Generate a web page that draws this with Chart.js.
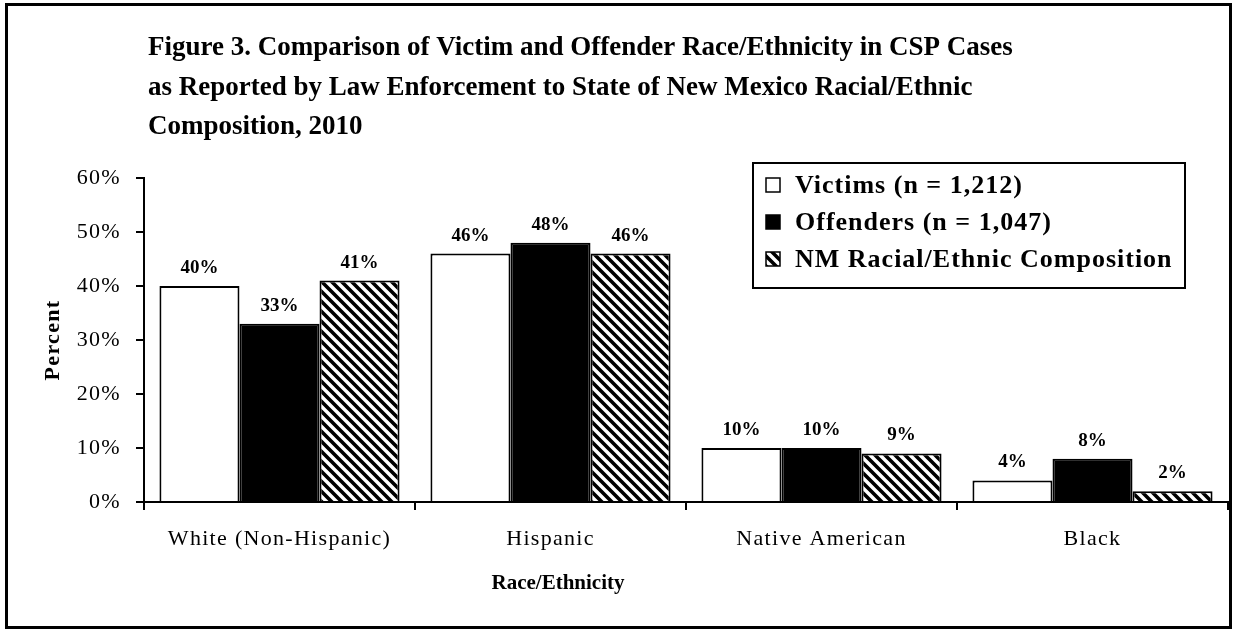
<!DOCTYPE html>
<html>
<head>
<meta charset="utf-8">
<script src="https://cdn.jsdelivr.net/npm/chart.js@4.4.0/dist/chart.umd.min.js"></script>
<style>
  html, body { margin: 0; padding: 0; background: #fff; }
</style>
</head>
<body>
<canvas id="chart" width="1233" height="630"></canvas>
<script>
const categories = ["White (Non-Hispanic)", "Hispanic", "Native American", "Black"];
const victims = [40, 46, 10, 4];
const offenders = [33, 48, 10, 8];
const nmComposition = [41, 46, 9, 2];
const seriesNames = ["Victims (n = 1,212)", "Offenders (n = 1,047)", "NM Racial/Ethnic Composition"];
const yTicks = [0, 10, 20, 30, 40, 50, 60];
const titleLines = [
    "Figure 3. Comparison of Victim and Offender Race/Ethnicity in CSP Cases",
    "as Reported by Law Enforcement to State of New Mexico Racial/Ethnic",
    "Composition, 2010"
];
const xAxisTitle = "Race/Ethnicity";
const yAxisTitle = "Percent";

const serif = "'Liberation Serif', 'Times New Roman', serif";

// diagonal "\" hatch for the NM series
function makeHatch() {
    const size = 10;
    const c = document.createElement("canvas");
    c.width = size;
    c.height = size;
    const g = c.getContext("2d");
    g.fillStyle = "#fff";
    g.fillRect(0, 0, size, size);
    g.strokeStyle = "#000";
    g.lineWidth = 3.6;
    g.beginPath();
    for (let k = -1; k <= 1; k++) {
        g.moveTo(k * size - size, -size);
        g.lineTo(k * size + 2 * size, 2 * size);
    }
    g.stroke();
    return g.createPattern(c, "repeat");
}

const ctx = document.getElementById("chart").getContext("2d");
const hatch = makeHatch();

const decorations = {
    id: "decorations",
    beforeDraw(chart) {
        // the scanned original has loosely spaced axis text
        chart.ctx.letterSpacing = "1.3px";
    },
    beforeDatasetsDraw(chart) {
        chart.ctx.letterSpacing = "0px";
    },
    afterDraw(chart) {
        const c = chart.ctx;
        c.save();
        c.letterSpacing = "0px";

        // outer frame
        c.strokeStyle = "#000";
        c.lineWidth = 3;
        c.strokeRect(6.5, 4.5, 1224, 623);

        // title
        c.fillStyle = "#000";
        c.textAlign = "left";
        c.textBaseline = "alphabetic";
        c.font = "bold 27px " + serif;
        titleLines.forEach((line, i) => c.fillText(line, 148, 55 + i * 39.5));

        // value labels
        c.font = "bold 19px " + serif;
        c.textAlign = "center";
        chart.data.datasets.forEach((ds, i) => {
            chart.getDatasetMeta(i).data.forEach((bar, j) => {
                c.fillText(ds.data[j] + "%", bar.x, bar.y - 13);
            });
        });

        // x axis title
        c.font = "bold 21px " + serif;
        c.textBaseline = "middle";
        c.fillText(xAxisTitle, 558, 584);

        // legend box
        c.lineWidth = 2;
        c.strokeRect(753, 163, 432, 125);
        c.textAlign = "left";
        c.textBaseline = "alphabetic";
        c.font = "bold 26px " + serif;
        c.letterSpacing = "1px";
        chart.data.datasets.forEach((ds, i) => {
            const base = 193 + i * 37;
            c.fillStyle = ds.backgroundColor;
            c.fillRect(766, base - 15, 14, 14);
            c.lineWidth = 1.5;
            c.strokeStyle = "#000";
            c.strokeRect(766, base - 15, 14, 14);
            c.fillStyle = "#000";
            c.fillText(ds.label, 795, base);
        });

        c.restore();
    }
};

new Chart(ctx, {
    type: "bar",
    data: {
        labels: categories,
        datasets: [
            { label: seriesNames[0], data: victims, backgroundColor: "#fff", borderColor: "#000", borderWidth: 2 },
            { label: seriesNames[1], data: offenders, backgroundColor: "#000", borderColor: "#000", borderWidth: 2 },
            { label: seriesNames[2], data: nmComposition, backgroundColor: hatch, borderColor: "#000", borderWidth: 2 }
        ]
    },
    options: {
        responsive: false,
        animation: false,
        devicePixelRatio: 1,
        layout: { padding: { top: 178, right: 5, bottom: 0, left: 0 } },
        datasets: { bar: { categoryPercentage: 0.886, barPercentage: 1.0 } },
        plugins: {
            legend: { display: false },
            tooltip: { enabled: false }
        },
        scales: {
            x: {
                grid: { offset: true, drawOnChartArea: false, color: "#000", lineWidth: 2, tickLength: 8 },
                border: { color: "#000", width: 2 },
                ticks: { color: "#000", font: { family: serif, size: 22 }, padding: 16, maxRotation: 0 },
                afterFit: s => { s.height = 128; }
            },
            y: {
                min: 0,
                max: 60,
                afterBuildTicks: s => { s.ticks = yTicks.map(v => ({ value: v })); },
                grid: { drawOnChartArea: false, color: "#000", lineWidth: 2, tickLength: 8 },
                border: { color: "#000", width: 2 },
                ticks: { color: "#000", font: { family: serif, size: 22 }, padding: 15, callback: v => v + "%" },
                title: { display: true, text: yAxisTitle, color: "#000", font: { family: serif, size: 22, weight: "bold" }, padding: { top: 40 } },
                afterFit: s => { s.width = 144; }
            }
        }
    },
    plugins: [decorations]
});
</script>
</body>
</html>
